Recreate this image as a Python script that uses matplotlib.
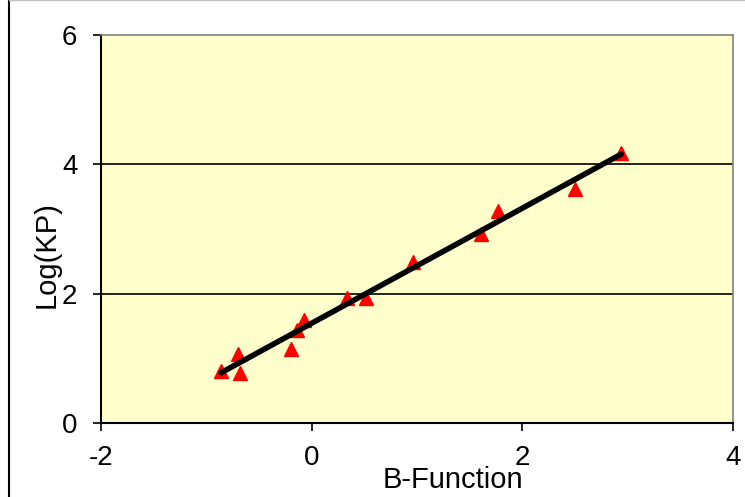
import numpy as np
import matplotlib
matplotlib.use("Agg")
import matplotlib.pyplot as plt
from matplotlib.lines import Line2D

plt.rcParams['font.family'] = ['Liberation Sans', 'DejaVu Sans']
plt.rcParams['axes.unicode_minus'] = False

# B-Function vs Log(KP)
b_func = [-0.86, -0.70, -0.68, -0.20, -0.14, -0.07, 0.34, 0.52, 0.96, 1.61, 1.77, 2.50, 2.94]
log_kp = [0.80, 1.07, 0.77, 1.14, 1.44, 1.59, 1.93, 1.93, 2.49, 2.92, 3.28, 3.62, 4.18]

x_ticks = [-2, 0, 2, 4]
y_ticks = [0, 2, 4, 6]

fig = plt.figure(figsize=(7.45, 4.97), dpi=100)
ax = fig.add_axes([101 / 745, 1 - 423 / 497, 632 / 745, 388 / 497])
ax.set_facecolor('#FFFFCC')

ax.set_xlim(-2, 4)
ax.set_ylim(0, 6)
ax.set_xticks(x_ticks)
ax.set_yticks(y_ticks)
ax.tick_params(labelsize=20, length=6, width=1.2, color='black', direction='out')
ax.tick_params(axis='y', pad=11)
ax.tick_params(axis='x', pad=10)

for y in [2, 4]:
    ax.axhline(y, color='black', lw=1.2, zorder=1)

# linear trend line
slope, icpt = np.polyfit(b_func, log_kp, 1)
xs = np.array([min(b_func), max(b_func)])
ax.plot(xs, slope * xs + icpt, color='black', lw=4, solid_capstyle='round', zorder=3)

ax.plot(b_func, log_kp, linestyle='none', marker='^', color='red', markersize=10, zorder=2)

for s in ['top', 'right']:
    ax.spines[s].set_color('#808080')
    ax.spines[s].set_linewidth(1.2)
for s in ['left', 'bottom']:
    ax.spines[s].set_color('black')
    ax.spines[s].set_linewidth(1.5)

ax.set_xlabel('B-Function', fontsize=21)
ax.xaxis.set_label_coords(352 / 632, -0.112)
ax.set_ylabel('Log(KP)', fontsize=21)
ax.yaxis.set_label_coords(-40 / 632, 0.433)

# chart area border on the left and top
fig.add_artist(Line2D([9 / 745, 9 / 745], [0, 1], color='black', lw=1.5))
fig.add_artist(Line2D([9 / 745, 1], [0.999, 0.999], color='#C0C0C0', lw=1))

fig.savefig('out.png', dpi=100)
